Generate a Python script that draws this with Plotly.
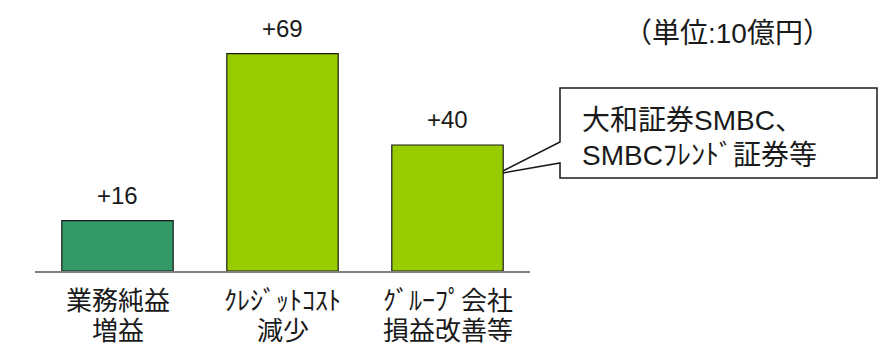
import plotly.graph_objects as go

# Profit drivers (unit: 10 billion yen)
categories = ["業務純益", "ｸﾚｼﾞｯﾄｺｽﾄ", "ｸﾞﾙｰﾌﾟ会社"]
category_sublines = ["増益", "減少", "損益改善等"]
values = [16, 69, 40]
bar_colors = ["#339966", "#99CC00", "#99CC00"]
unit_label = "（単位:10億円）"
callout_lines = ["大和証券SMBC、", "SMBCﾌﾚﾝﾄﾞ証券等"]

# Latin glyphs from Liberation Sans, Japanese glyphs fall back to Noto Sans CJK JP
FONT = "Liberation Sans, Noto Sans CJK JP"
TEXT = "#1a1a1a"
W, H = 887, 358
ML, MR, MT, MB = 35, 0, 19, 87
PW, PH = W - ML - MR, H - MT - MB
X_DOMAIN_PX = 495  # width of the category axis in pixels


def px_x(p):
    """Pixel x -> paper x."""
    return (p - ML) / PW


def px_y(p):
    """Pixel y (from top) -> paper y."""
    return (H - MB - p) / PH


fig = go.Figure()
fig.add_trace(go.Bar(
    x=categories,
    y=values,
    width=0.675,
    marker=dict(color=bar_colors, line=dict(color=TEXT, width=1.2)),
    hoverinfo="skip",
))

annotations = []
for c, sub, v in zip(categories, category_sublines, values):
    # value label above the bar
    annotations.append(dict(
        x=c, y=v, xref="x", yref="y", text=f"+{v}", showarrow=False,
        yanchor="bottom", yshift=10,
        font=dict(family=FONT, size=24, color=TEXT),
    ))
    # two-line category label below the axis
    for txt, py in ((c, 301), (sub, 331)):
        annotations.append(dict(
            x=c, y=px_y(py), xref="x", yref="paper", text=txt, showarrow=False,
            xanchor="center", yanchor="middle",
            font=dict(family=FONT, size=26, color=TEXT),
        ))

# unit note
annotations.append(dict(
    x=px_x(727), y=px_y(33), xref="paper", yref="paper", text=unit_label,
    showarrow=False, xanchor="center", yanchor="middle",
    font=dict(family=FONT, size=28, color=TEXT),
))

# callout text
for txt, py in zip(callout_lines, (120, 155)):
    annotations.append(dict(
        x=px_x(580), y=px_y(py), xref="paper", yref="paper",
        text=txt, align="left",
        showarrow=False, xanchor="left", yanchor="middle",
        font=dict(family=FONT, size=28, color=TEXT),
    ))

# callout box with pointer toward the third bar
pts = [(560, 88), (877, 88), (877, 178), (560, 178), (560, 163), (497, 174), (560, 142)]
path = "M " + " L ".join(f"{px_x(a):.5f},{px_y(b):.5f}" for a, b in pts) + " Z"
shapes = [dict(type="path", xref="paper", yref="paper", path=path,
               fillcolor="white", line=dict(color=TEXT, width=1.5), layer="below")]

fig.update_layout(
    width=W, height=H,
    margin=dict(l=ML, r=MR, t=MT, b=MB),
    paper_bgcolor="white", plot_bgcolor="white",
    showlegend=False,
    annotations=annotations,
    shapes=shapes,
    xaxis=dict(
        domain=[0, X_DOMAIN_PX / PW],
        range=[-0.5, 2.5],
        showline=True, linecolor="#808080", linewidth=1.5,
        showgrid=False, zeroline=False, ticks="", showticklabels=False,
        fixedrange=True,
    ),
    yaxis=dict(
        range=[0, 80], visible=False, showgrid=False, zeroline=False,
        fixedrange=True,
    ),
)

fig.write_html("out.html")
